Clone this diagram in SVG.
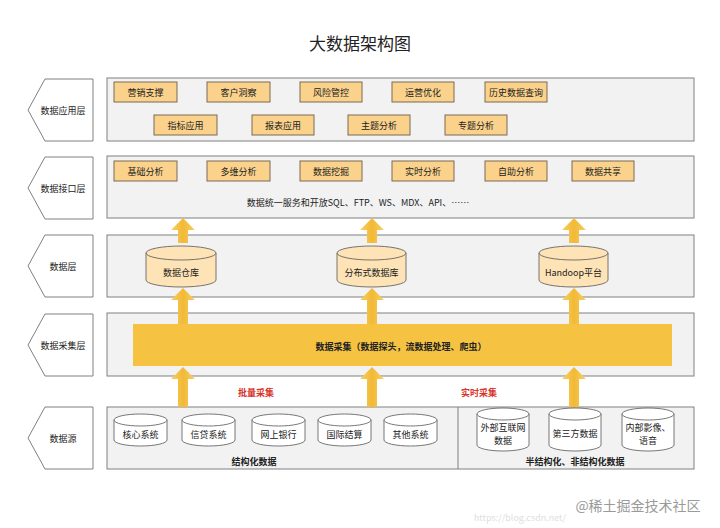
<svg xmlns="http://www.w3.org/2000/svg" width="720" height="528" viewBox="0 0 720 528">
<defs>
<style>
text{font-family:"Noto Sans CJK SC","Noto Sans",sans-serif;font-size:9px;fill:#222;text-anchor:middle;dominant-baseline:central}
.panel{fill:#f2f2f2;stroke:#808080;stroke-width:1}
.lab{fill:#fff;stroke:#808080;stroke-width:1}
.box{fill:#fbd28c;stroke:#7a6a55;stroke-width:1}
.cyl{fill:#fde3b5;stroke:#555;stroke-width:0.8}
.wcyl{fill:#fff;stroke:#555;stroke-width:0.8}
.b{font-weight:bold}
.red{fill:#d9332b}
</style>
<linearGradient id="g" x1="0" y1="0" x2="1" y2="0"><stop offset="0" stop-color="#f7cf63"/><stop offset="0.5" stop-color="#f2b935"/><stop offset="1" stop-color="#f7cf63"/></linearGradient>
</defs>
<text x="360" y="42" style="font-size:17px">大数据架构图</text>

<g id="labels">
<path class="lab" d="M93,79H45L28,110L45,141H93Z"/><text x="63" y="110">数据应用层</text>
<path class="lab" d="M93,157H45L28,188L45,219H93Z"/><text x="63" y="188">数据接口层</text>
<path class="lab" d="M93,235H45L28,266L45,297H93Z"/><text x="63" y="266">数据层</text>
<path class="lab" d="M93,314H45L28,345L45,376H93Z"/><text x="63" y="345">数据采集层</text>
<path class="lab" d="M93,407H45L28,438L45,469H93Z"/><text x="63" y="438">数据源</text>
</g>

<g id="panels">
<rect class="panel" x="107" y="78" width="587" height="63"/>
<rect class="panel" x="107" y="156" width="587" height="62"/>
<rect class="panel" x="107" y="235" width="587" height="62"/>
<rect class="panel" x="107" y="313" width="587" height="63"/>
<rect class="panel" x="107" y="407" width="587" height="62"/>
<line x1="458" y1="407" x2="458" y2="469" stroke="#808080"/>
</g>

<g id="app">
<rect class="box" x="114" y="82" width="63" height="20"/><text x="145.5" y="92">营销支撑</text>
<rect class="box" x="207" y="82" width="63" height="20"/><text x="238.5" y="92">客户洞察</text>
<rect class="box" x="300" y="82" width="62" height="20"/><text x="331" y="92">风险管控</text>
<rect class="box" x="392" y="82" width="62" height="20"/><text x="423" y="92">运营优化</text>
<rect class="box" x="485" y="82" width="62" height="20"/><text x="516" y="92">历史数据查询</text>
<rect class="box" x="154" y="115" width="63" height="20"/><text x="185.5" y="125">指标应用</text>
<rect class="box" x="252" y="115" width="62" height="20"/><text x="283" y="125">报表应用</text>
<rect class="box" x="348" y="115" width="62" height="20"/><text x="379" y="125">主题分析</text>
<rect class="box" x="445" y="115" width="62" height="20"/><text x="476" y="125">专题分析</text>
</g>

<g id="iface">
<rect class="box" x="114" y="161" width="63" height="20"/><text x="145.5" y="171">基础分析</text>
<rect class="box" x="207" y="161" width="63" height="20"/><text x="238.5" y="171">多维分析</text>
<rect class="box" x="300" y="161" width="62" height="20"/><text x="331" y="171">数据挖掘</text>
<rect class="box" x="392" y="161" width="62" height="20"/><text x="423" y="171">实时分析</text>
<rect class="box" x="485" y="161" width="62" height="20"/><text x="516" y="171">自助分析</text>
<rect class="box" x="572" y="161" width="62" height="20"/><text x="603" y="171">数据共享</text>
<text x="358" y="202">数据统一服务和开放SQL、FTP、WS、MDX、API、……</text>
</g>

<g id="connectors" fill="url(#g)">
<path d="M178,243V230H171L183,218L195,230H188V243Z"/>
<path d="M367,243V230H360L372,218L384,230H377V243Z"/>
<path d="M569,243V230H562L574,218L586,230H579V243Z"/>
<path d="M178,324V300H171L183,288L195,300H188V324Z"/>
<path d="M367,324V300H360L372,288L384,300H377V324Z"/>
<path d="M569,324V300H562L574,288L586,300H579V324Z"/>
<path d="M178,407V379H171L183,367L195,379H188V407Z"/>
<path d="M367,407V379H360L372,367L384,379H377V407Z"/>
<path d="M569,407V379H562L574,367L586,379H579V407Z"/>
<text class="red b" x="256" y="392">批量采集</text>
<text class="red b" x="479" y="392">实时采集</text>
</g>

<g id="data">
<path class="cyl" d="M146,253V280A35,7 0 0 0 216,280V253"/><ellipse class="cyl" cx="181" cy="253" rx="35" ry="7"/><text x="181" y="272">数据仓库</text>
<path class="cyl" d="M337,253V280A34.5,7 0 0 0 406,280V253"/><ellipse class="cyl" cx="371.5" cy="253" rx="34.5" ry="7"/><text x="371.5" y="272">分布式数据库</text>
<path class="cyl" d="M539,253V280A34.5,7 0 0 0 608,280V253"/><ellipse class="cyl" cx="573.5" cy="253" rx="34.5" ry="7"/><text x="573.5" y="272">Handoop平台</text>
</g>

<g id="collect">
<rect x="133" y="324" width="539" height="42" fill="#f5c242"/>
<text class="b" x="401" y="346">数据采集（数据探头，流数据处理、爬虫）</text>
</g>

<g id="sources">
<path class="wcyl" d="M114,420V440A26.5,6 0 0 0 167,440V420"/><ellipse class="wcyl" cx="140.5" cy="420" rx="26.5" ry="6"/><text x="140.5" y="434">核心系统</text>
<path class="wcyl" d="M182,420V440A26.5,6 0 0 0 235,440V420"/><ellipse class="wcyl" cx="208.5" cy="420" rx="26.5" ry="6"/><text x="208.5" y="434">信贷系统</text>
<path class="wcyl" d="M252,420V440A26.5,6 0 0 0 305,440V420"/><ellipse class="wcyl" cx="278.5" cy="420" rx="26.5" ry="6"/><text x="278.5" y="434">网上银行</text>
<path class="wcyl" d="M318,420V440A26.5,6 0 0 0 371,440V420"/><ellipse class="wcyl" cx="344.5" cy="420" rx="26.5" ry="6"/><text x="344.5" y="434">国际结算</text>
<path class="wcyl" d="M384,420V440A26.5,6 0 0 0 437,440V420"/><ellipse class="wcyl" cx="410.5" cy="420" rx="26.5" ry="6"/><text x="410.5" y="434">其他系统</text>
<path class="wcyl" d="M477,414V445A26,6 0 0 0 529,445V414"/><ellipse class="wcyl" cx="503" cy="414" rx="26" ry="6"/><text x="503" y="427">外部互联网</text><text x="503" y="440">数据</text>
<path class="wcyl" d="M549,414V445A26,6 0 0 0 601,445V414"/><ellipse class="wcyl" cx="575" cy="414" rx="26" ry="6"/><text x="575" y="433">第三方数据</text>
<path class="wcyl" d="M622,414V445A26,6 0 0 0 674,445V414"/><ellipse class="wcyl" cx="648" cy="414" rx="26" ry="6"/><text x="648" y="427">内部影像、</text><text x="648" y="440">语音</text>
<text class="b" x="254" y="461">结构化数据</text>
<text class="b" x="575" y="461">半结构化、非结构化数据</text>
</g>

<text x="520" y="517" style="font-size:9px;fill:#e0e0e0">https://blog.csdn.net/</text>
<text x="638" y="505" style="font-size:14px;fill:#9a9a9a">@稀土掘金技术社区</text>
</svg>
